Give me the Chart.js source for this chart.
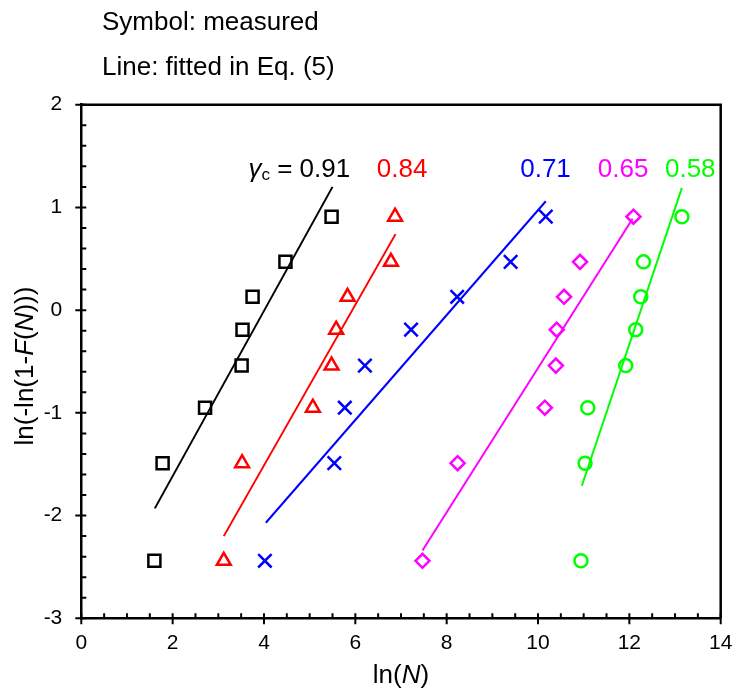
<!DOCTYPE html>
<html><head><meta charset="utf-8">
<script src="https://cdn.jsdelivr.net/npm/chart.js@4/dist/chart.umd.min.js"></script>
<style>html,body{margin:0;padding:0;background:#fff}#wrap{width:736px;height:693px;position:relative}</style>
</head><body><div id="wrap"><canvas id="c" width="736" height="693"></canvas></div>
<script>
// ---- data ----
const yRank = [-2.44, -1.49, -0.95, -0.54, -0.19, 0.13, 0.47, 0.91];
const gammaLabels = ['0.91', '0.84', '0.71', '0.65', '0.58'];
const x091 = [1.60, 1.78, 2.71, 3.51, 3.53, 3.75, 4.47, 5.48];
const x084 = [3.12, 3.52, 5.07, 5.48, 5.58, 5.83, 6.78, 6.87];
const x071 = [4.02, 5.54, 5.77, 6.21, 7.22, 8.23, 9.40, 10.17];
const x065 = [7.47, 8.24, 10.15, 10.39, 10.41, 10.57, 10.92, 12.09];
const x058 = [10.94, 11.03, 11.09, 11.92, 12.14, 12.25, 12.31, 13.15];
// fitted line end points (x, y)
const fitX091 = [1.61, 5.50],  fitY091 = [-1.93, 1.20];
const fitX084 = [3.12, 6.88],  fitY084 = [-2.20, 0.74];
const fitX071 = [4.04, 10.17], fitY071 = [-2.07, 1.06];
const fitX065 = [7.47, 12.07], fitY065 = [-2.34, 0.89];
const fitX058 = [10.96, 13.15], fitY058 = [-1.71, 1.19];
// label anchor positions (data units: left x, middle y)
const labelX = [3.66, 6.47, 9.61, 11.31, 12.78];
const labelY = [1.37, 1.37, 1.37, 1.37, 1.37];
const xTickMin = 0, xTickMax = 14, xStep = 2, xMinor = 0.5;
const yTickMin = -3, yTickMax = 2, yStep = 1, yMinor = 0.2;

const FONT = '"Liberation Sans", Arial, Helvetica, sans-serif';
const colors = ['#000000', '#ff0000', '#0000ff', '#ff00ff', '#00ff00'];
const styles = ['rect', 'triangle', 'crossRot', 'rectRot', 'circle'];
const radii = [8.5, 8, 9.5, 7, 6.5];
const xs = [x091, x084, x071, x065, x058];
const fx = [fitX091, fitX084, fitX071, fitX065, fitX058];
const fy = [fitY091, fitY084, fitY071, fitY065, fitY058];

const datasets = [];
for (let i = 0; i < 5; i++) {
  datasets.push({
    type: 'scatter',
    data: xs[i].map((x, k) => ({x: x, y: yRank[k]})),
    pointStyle: styles[i], pointRadius: radii[i], pointBorderWidth: 2.5,
    pointBorderColor: colors[i], pointBackgroundColor: 'rgba(0,0,0,0)',
    borderColor: colors[i], backgroundColor: 'rgba(0,0,0,0)', showLine: false
  });
  datasets.push({
    type: 'line',
    data: fx[i].map((x, k) => ({x: x, y: fy[i][k]})),
    borderColor: colors[i], borderWidth: 2, pointRadius: 0, fill: false, tension: 0
  });
}

function richWidth(ctx, parts) {
  let w = 0;
  for (const p of parts) { ctx.font = p.f; w += ctx.measureText(p.t).width; }
  return w;
}
function drawRich(ctx, parts, x, y) {
  let cx = x;
  for (const p of parts) {
    ctx.font = p.f; ctx.fillStyle = p.c || '#000';
    ctx.fillText(p.t, cx, y + (p.dy || 0));
    cx += ctx.measureText(p.t).width;
  }
}

const decor = {
  id: 'decor',
  afterDraw(chart) {
    const ctx = chart.ctx, a = chart.chartArea;
    const xS = chart.scales.x, yS = chart.scales.y;
    ctx.save();
    ctx.strokeStyle = '#000'; ctx.lineWidth = 2.5;
    // frame top & right
    ctx.beginPath();
    ctx.moveTo(a.left, a.top); ctx.lineTo(a.right, a.top); ctx.lineTo(a.right, a.bottom);
    ctx.stroke();
    ctx.lineWidth = 2;
    ctx.beginPath();
    for (let v = xTickMin; v <= xTickMax + 1e-9; v += xMinor) {
      const px = xS.getPixelForValue(v);
      const major = Math.abs(v / xStep - Math.round(v / xStep)) < 1e-6;
      ctx.moveTo(px, a.bottom - 5); ctx.lineTo(px, a.bottom + (major ? 6 : 0));
    }
    for (let v = yTickMin; v <= yTickMax + 1e-9; v += yMinor) {
      const py = yS.getPixelForValue(v);
      const major = Math.abs(v / yStep - Math.round(v / yStep)) < 1e-6;
      ctx.moveTo(a.left - (major ? 6 : 0), py); ctx.lineTo(a.left + 5, py);
    }
    ctx.stroke();
    // header
    const f = '26px ' + FONT, fi = 'italic 26px ' + FONT, fs = '17px ' + FONT;
    ctx.fillStyle = '#000'; ctx.textBaseline = 'alphabetic'; ctx.textAlign = 'left';
    ctx.font = f;
    ctx.fillText('Symbol: measured', 102, 30);
    ctx.fillText('Line: fitted in Eq. (5)', 102, 75);
    // x title
    const xt = [{t:'ln(', f:f}, {t:'N', f:fi}, {t:')', f:f}];
    const xw = richWidth(ctx, xt);
    drawRich(ctx, xt, (a.left + a.right) / 2 - xw / 2, 683);
    // y title
    const yt = [{t:'ln(-ln(1-', f:f}, {t:'F', f:fi}, {t:'(', f:f}, {t:'N', f:fi}, {t:')))', f:f}];
    const yw = richWidth(ctx, yt);
    ctx.save();
    ctx.translate(33, 366);
    ctx.rotate(-Math.PI / 2);
    drawRich(ctx, yt, -yw / 2, 0);
    ctx.restore();
    // series labels
    ctx.textBaseline = 'middle';
    for (let i = 0; i < 5; i++) {
      const px = xS.getPixelForValue(labelX[i]), py = yS.getPixelForValue(labelY[i]);
      let parts;
      if (i === 0) parts = [{t:'\u03B3', f:fi, c:colors[i]}, {t:'c', f:fs, c:colors[i], dy:6}, {t:' = ' + gammaLabels[i], f:f, c:colors[i]}];
      else parts = [{t:gammaLabels[i], f:f, c:colors[i]}];
      drawRich(ctx, parts, px, py);
    }
    ctx.restore();
  }
};

new Chart(document.getElementById('c'), {
  type: 'scatter',
  data: {datasets: datasets},
  options: {
    responsive: false, animation: false, devicePixelRatio: 1,
    layout: {padding: {top: 104.7, right: 15.3, left: 0, bottom: 0}},
    plugins: {legend: {display: false}, tooltip: {enabled: false}, title: {display: false}},
    scales: {
      x: {
        type: 'linear', min: xTickMin, max: xTickMax,
        ticks: {stepSize: xStep, color: '#000', font: {family: FONT, size: 21}, padding: 12, maxRotation: 0},
        grid: {display: false, drawTicks: false},
        border: {display: true, color: '#000', width: 2.5},
        afterFit(s) { s.height = 74.7; s.paddingLeft = 0; s.paddingRight = 0; }
      },
      y: {
        type: 'linear', min: yTickMin, max: yTickMax,
        ticks: {stepSize: yStep, color: '#000', font: {family: FONT, size: 21}, padding: 19},
        grid: {display: false, drawTicks: false},
        border: {display: true, color: '#000', width: 2.5},
        afterFit(s) { s.width = 81.3; s.paddingTop = 0; s.paddingBottom = 0; }
      }
    }
  },
  plugins: [decor]
});
</script></body></html>
